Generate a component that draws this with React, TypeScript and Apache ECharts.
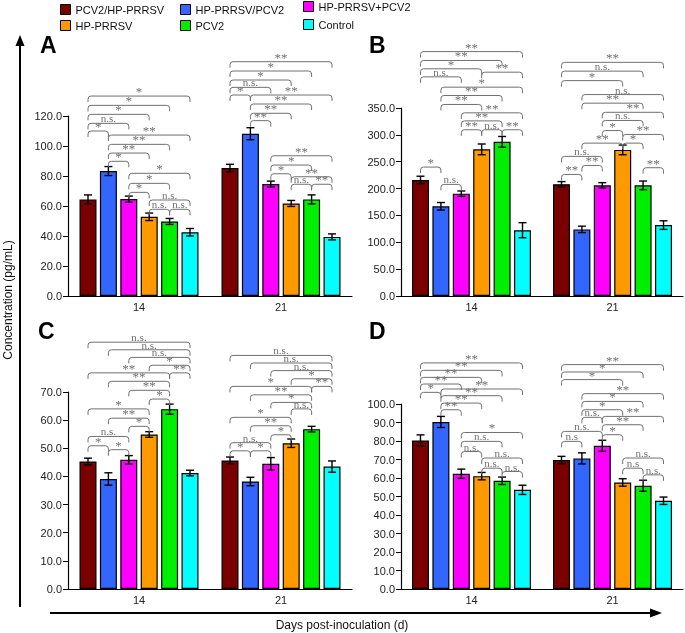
import React, { useEffect, useRef } from 'react';
import * as echarts from 'echarts';

const CATEGORIES = ['14', '21'];
const GROUPS = ['PCV2/HP-PRRSV', 'HP-PRRSV/PCV2', 'HP-PRRSV+PCV2', 'HP-PRRSV', 'PCV2', 'Control'];
const COLORS = ['#7a0000', '#3366ff', '#ff00ff', '#ff9900', '#00ee00', '#00ffff'];

// mean values [group][category]
const A_MEAN = [[64.4, 85.3], [83.3, 108.2], [64.6, 74.6], [52.8, 61.7], [49.7, 64.4], [42.5, 39.4]];
const A_ERR = [[3, 2.5], [3, 4], [2, 2], [2.5, 2], [2, 3], [2.5, 2]];
const B_MEAN = [[216, 208], [167, 124], [190.5, 206], [273, 272], [287, 206], [122.5, 132]];
const B_ERR = [[7, 5], [7, 6], [5, 5], [10, 9], [10, 8], [14, 8]];
const C_MEAN = [[45.3, 45.7], [39.1, 38.2], [45.9, 44.5], [54.9, 51.8], [63.9, 56.8], [41.2, 43.5]];
const C_ERR = [[1.2, 1.2], [2.2, 1.5], [1.5, 2.2], [1, 1.5], [1.8, 1], [1, 2]];
const D_MEAN = [[80.3, 69.7], [90.3, 70.6], [62.3, 77.4], [61, 57.6], [58.5, 55.8], [53.6, 47.7]];
const D_ERR = [[3, 2], [3, 3], [2.5, 3], [2, 2], [2, 3], [2.5, 2]];

// significance brackets: [category, fromGroup, toGroup, level, label]
const A_BRACKETS: [number, number, number, number, string][] = [
  [0, 0, 5, 133.3, '*'], [0, 0, 4, 127.1, '*'], [0, 0, 3, 121.1, '*'], [0, 0, 2, 115.1, 'n.s.'],
  [0, 0, 1, 110, '*'], [0, 1, 5, 107.3, '**'], [0, 1, 4, 101.1, '**'], [0, 1, 3, 95.3, '**'],
  [0, 1, 2, 89.8, '*'], [0, 2, 5, 81.8, '*'], [0, 2, 4, 75.1, '*'], [0, 2, 3, 69.1, '*'],
  [0, 3, 5, 64, 'n.s.'], [0, 3, 4, 57.8, 'n.s.'], [0, 4, 5, 57.8, 'n.s.'],
  [1, 0, 5, 156.2, '**'], [1, 0, 4, 150, '*'], [1, 0, 3, 144, '*'], [1, 0, 2, 139.1, 'n.s.'],
  [1, 0, 1, 134, '*'], [1, 1, 5, 134, '**'], [1, 1, 4, 128, '**'], [1, 1, 3, 121.8, '**'],
  [1, 1, 2, 116.9, '**'], [1, 2, 5, 93.5, '**'], [1, 2, 4, 87.3, '*'], [1, 2, 3, 81.5, '*'],
  [1, 3, 5, 79.5, '**'], [1, 3, 4, 74.5, 'n.s.'], [1, 4, 5, 74.5, '**'],
];
const B_BRACKETS: [number, number, number, number, string][] = [
  [0, 0, 5, 455, '**'], [0, 0, 4, 438.5, '**'], [0, 0, 3, 423, '*'], [0, 3, 5, 416.7, '**'],
  [0, 0, 2, 408, 'n.s.'], [0, 1, 5, 388.8, '*'], [0, 1, 4, 373.3, '**'], [0, 1, 3, 356.6, '**'],
  [0, 2, 5, 341, '**'], [0, 2, 4, 326, '**'], [0, 2, 3, 309.5, '**'], [0, 3, 4, 309.5, 'n.s.'],
  [0, 4, 5, 309.5, '**'], [0, 0, 1, 240, '*'], [0, 1, 2, 207.8, 'n.s.'],
  [1, 0, 5, 435, '**'], [1, 0, 4, 418.6, 'n.s.'], [1, 0, 3, 401, '*'], [1, 1, 5, 375, 'n.s.'],
  [1, 1, 4, 359, '**'], [1, 2, 5, 342, '**'], [1, 2, 4, 326.8, 'n.s.'], [1, 2, 3, 308, '*'],
  [1, 3, 5, 300.8, '**'], [1, 1, 3, 284.6, '**'], [1, 3, 4, 284.6, '*'], [1, 0, 2, 259.9, 'n.s.'],
  [1, 1, 2, 243, '**'], [1, 0, 1, 226.3, '**'], [1, 4, 5, 238.8, '**'],
];
const C_BRACKETS: [number, number, number, number, string][] = [
  [0, 0, 5, 87.7, 'n.s.'], [0, 1, 5, 85, 'n.s.'], [0, 2, 5, 82.3, 'n.s.'], [0, 3, 5, 79.5, '*'],
  [0, 0, 4, 76.8, '**'], [0, 4, 5, 76.8, '**'], [0, 1, 4, 73.8, '**'], [0, 2, 4, 70.6, '**'],
  [0, 3, 4, 67.5, '*'], [0, 0, 3, 64, '*'], [0, 1, 3, 60.7, '**'], [0, 2, 3, 57.8, '*'],
  [0, 0, 2, 54.2, 'n.s.'], [0, 0, 1, 50.9, '*'], [0, 1, 2, 49.5, '*'],
  [1, 0, 5, 83, 'n.s.'], [1, 1, 5, 80.3, 'n.s.'], [1, 2, 5, 77.6, 'n.s.'], [1, 3, 5, 74.7, '*'],
  [1, 0, 4, 72, '*'], [1, 4, 5, 72, '**'], [1, 1, 4, 69, '**'], [1, 2, 4, 66.3, '*'],
  [1, 3, 4, 64, 'n.s.'], [1, 0, 3, 61, '*'], [1, 1, 3, 58, '**'], [1, 2, 3, 54.8, '*'],
  [1, 0, 2, 52, 'n.s.'], [1, 0, 1, 49.1, '*'], [1, 1, 2, 49.1, '*'],
];
const D_BRACKETS: [number, number, number, number, string][] = [
  [0, 0, 5, 122.2, '**'], [0, 0, 4, 118.2, '**'], [0, 0, 3, 114.4, '**'], [0, 0, 2, 110.8, '**'],
  [0, 1, 5, 108.1, '**'], [0, 0, 1, 106.3, '*'], [0, 1, 4, 104.5, '**'], [0, 1, 3, 100.5, '**'],
  [0, 1, 2, 96.9, '**'], [0, 2, 5, 84.6, '*'], [0, 2, 4, 79.8, 'n.s.'], [0, 2, 3, 74.3, 'n.s.'],
  [0, 3, 5, 70.8, 'n.s.'], [0, 3, 4, 65.3, 'n.s.'], [0, 4, 5, 63.5, 'n.s.'],
  [1, 0, 5, 121.3, '**'], [1, 0, 4, 117.3, '*'], [1, 0, 3, 113.2, '*'], [1, 1, 5, 105.6, '**'],
  [1, 1, 4, 101.4, '*'], [1, 1, 3, 96.9, '*'], [1, 1, 2, 92.8, 'n.s.'], [1, 2, 5, 93.3, '**'],
  [1, 2, 4, 88.8, '**'], [1, 0, 2, 85.2, 'n.s.'], [1, 2, 3, 83.4, '*'], [1, 0, 1, 79.8, 'n.s'],
  [1, 3, 5, 70.8, 'n.s.'], [1, 3, 4, 65.3, 'n.s'], [1, 4, 5, 61.7, 'n.s.'],
];

const Y_MAX = [120, 350, 70, 100];
const Y_INTERVAL = [20, 50, 10, 10];
const LETTERS = ['A', 'B', 'C', 'D'];

const FONT = '"Liberation Sans", Arial, Helvetica, sans-serif';
const SERIF = '"Liberation Serif", "Times New Roman", serif';
const BAR_WIDTH = 17;
const BAR_GAP = 0.2;
const BRACKET_COLOR = '#707070';

function barOffset(k: number) {
  return (k - 2.5) * BAR_WIDTH * (1 + BAR_GAP);
}

const PANELS = [
  { grid: { left: 68, top: 116, width: 284, height: 180 }, means: A_MEAN, errs: A_ERR, brackets: A_BRACKETS, letter: [40, 33] },
  { grid: { left: 401, top: 108, width: 282, height: 188 }, means: B_MEAN, errs: B_ERR, brackets: B_BRACKETS, letter: [369, 33] },
  { grid: { left: 68, top: 392, width: 284, height: 197 }, means: C_MEAN, errs: C_ERR, brackets: C_BRACKETS, letter: [38, 319] },
  { grid: { left: 401, top: 404, width: 282, height: 185 }, means: D_MEAN, errs: D_ERR, brackets: D_BRACKETS, letter: [369, 319] },
];

export default function App() {
  const ref = useRef<HTMLDivElement>(null);
  useEffect(() => {
    if (!ref.current) return;
    const chart = echarts.init(ref.current, undefined, { renderer: 'svg' });

    const series: any[] = [];
    PANELS.forEach((p, pi) => {
      GROUPS.forEach((g, k) => {
        series.push({
          type: 'bar',
          name: g,
          xAxisIndex: pi,
          yAxisIndex: pi,
          data: p.means[k],
          barWidth: BAR_WIDTH,
          barGap: '20%',
          itemStyle: { color: COLORS[k], borderColor: '#000', borderWidth: 1.2 },
        });
      });
      const errData: number[][] = [];
      GROUPS.forEach((_, k) => {
        CATEGORIES.forEach((__, c) => {
          errData.push([c, k, p.means[k][c], p.errs[k][c]]);
        });
      });
      series.push({
        type: 'custom',
        xAxisIndex: pi,
        yAxisIndex: pi,
        clip: false,
        encode: { x: 0, y: 2 },
        data: errData,
        z: 5,
        itemStyle: { color: '#000' },
        renderItem: (params: any, api: any) => {
          const c = api.value(0);
          const k = api.value(1);
          const m = api.value(2);
          const e = api.value(3);
          const base = api.coord([c, m]);
          const x = base[0] + barOffset(k);
          const yT = api.coord([c, m + e])[1];
          const yB = api.coord([c, m - e])[1];
          const st = { stroke: '#000', lineWidth: 1.4 };
          return {
            type: 'group',
            children: [
              { type: 'line', shape: { x1: x, y1: yT, x2: x, y2: yB }, style: st },
              { type: 'line', shape: { x1: x - 4, y1: yT, x2: x + 4, y2: yT }, style: st },
              { type: 'line', shape: { x1: x - 4, y1: yB, x2: x + 4, y2: yB }, style: st },
            ],
          };
        },
      });
      const br = p.brackets;
      series.push({
        type: 'custom',
        xAxisIndex: pi,
        yAxisIndex: pi,
        clip: false,
        encode: { x: 0, y: 1 },
        data: br.map((b) => [b[0], b[3]]),
        z: 6,
        itemStyle: { color: BRACKET_COLOR },
        renderItem: (params: any, api: any) => {
          const b = br[params.dataIndex];
          const cpt = api.coord([b[0], b[3]]);
          const x1 = cpt[0] + barOffset(b[1]);
          const x2 = cpt[0] + barOffset(b[2]);
          const y = cpt[1];
          const r = 3;
          const d = 6;
          const isStar = b[4].indexOf('*') >= 0;
          const pathData = `M${x1} ${y + d} L${x1} ${y + r} Q${x1} ${y} ${x1 + r} ${y} L${x2 - r} ${y} Q${x2} ${y} ${x2} ${y + r} L${x2} ${y + d}`;
          return {
            type: 'group',
            children: [
              { type: 'path', shape: { pathData }, style: { stroke: BRACKET_COLOR, fill: 'none', lineWidth: 1 } },
              {
                type: 'text',
                x: (x1 + x2) / 2,
                y: isStar ? y + 2 : y + 0.5,
                style: {
                  text: b[4],
                  align: 'center',
                  verticalAlign: 'bottom',
                  fill: BRACKET_COLOR,
                  font: isStar ? `13px ${SERIF}` : `11px ${SERIF}`,
                },
              },
            ],
          };
        },
      });
    });

    const legendBase = {
      orient: 'vertical',
      top: 4,
      padding: 0,
      itemWidth: 10,
      itemHeight: 10,
      itemGap: 5,
      icon: 'rect',
      selectedMode: false,
      itemStyle: { borderColor: '#000', borderWidth: 1 },
      textStyle: { fontSize: 11, color: '#111', fontFamily: FONT },
    };

    const graphic: any[] = [];
    PANELS.forEach((p, pi) => {
      graphic.push({
        type: 'text',
        left: p.letter[0],
        top: p.letter[1],
        style: { text: LETTERS[pi], font: `bold 23px ${FONT}`, fill: '#000' },
      });
    });
    graphic.push(
      { type: 'line', shape: { x1: 20, y1: 607, x2: 20, y2: 44 }, style: { stroke: '#000', lineWidth: 2 } },
      { type: 'polygon', shape: { points: [[20, 35], [15.5, 46], [24.5, 46]] }, style: { fill: '#000' } },
      { type: 'line', shape: { x1: 50, y1: 613, x2: 652, y2: 613 }, style: { stroke: '#000', lineWidth: 2 } },
      { type: 'polygon', shape: { points: [[662, 613], [650, 608.5], [650, 617.5]] }, style: { fill: '#000' } },
      {
        type: 'text',
        x: 8,
        y: 300,
        rotation: Math.PI / 2,
        style: { text: 'Concentration (pg/mL)', font: `12px ${FONT}`, fill: '#111', align: 'center', verticalAlign: 'middle' },
      },
      {
        type: 'text',
        x: 342,
        y: 625,
        style: { text: 'Days post-inoculation (d)', font: `12px ${FONT}`, fill: '#111', align: 'center', verticalAlign: 'middle' },
      }
    );

    chart.setOption({
      animation: false,
      legend: [
        { ...legendBase, left: 60, data: [GROUPS[0], GROUPS[3]] },
        { ...legendBase, left: 180, data: [GROUPS[1], GROUPS[4]] },
        { ...legendBase, left: 303, top: 1, itemGap: 7, data: [GROUPS[2], GROUPS[5]] },
      ],
      grid: PANELS.map((p) => ({ ...p.grid })),
      xAxis: PANELS.map((p, i) => ({
        type: 'category',
        gridIndex: i,
        data: CATEGORIES,
        axisLine: { lineStyle: { color: '#000', width: 1.2 } },
        axisTick: { inside: true, length: 5, lineStyle: { color: '#000' } },
        axisLabel: { color: '#222', fontSize: 11, fontFamily: FONT, margin: 5 },
      })),
      yAxis: PANELS.map((p, i) => ({
        type: 'value',
        gridIndex: i,
        min: 0,
        max: Y_MAX[i],
        interval: Y_INTERVAL[i],
        splitLine: { show: false },
        axisLine: { show: true, lineStyle: { color: '#000', width: 1.2 } },
        axisTick: { show: true, length: 5, lineStyle: { color: '#000' } },
        axisLabel: {
          color: '#222',
          fontSize: 11,
          fontFamily: FONT,
          margin: 6,
          formatter: (v: number) => v.toFixed(1),
        },
      })),
      series,
      graphic,
    });
    return () => chart.dispose();
  }, []);
  return (
    <div
      ref={ref}
      style={{ position: 'absolute', left: 0, top: 0, width: 685, height: 633, background: '#fff', willChange: 'transform' }}
    />
  );
}
